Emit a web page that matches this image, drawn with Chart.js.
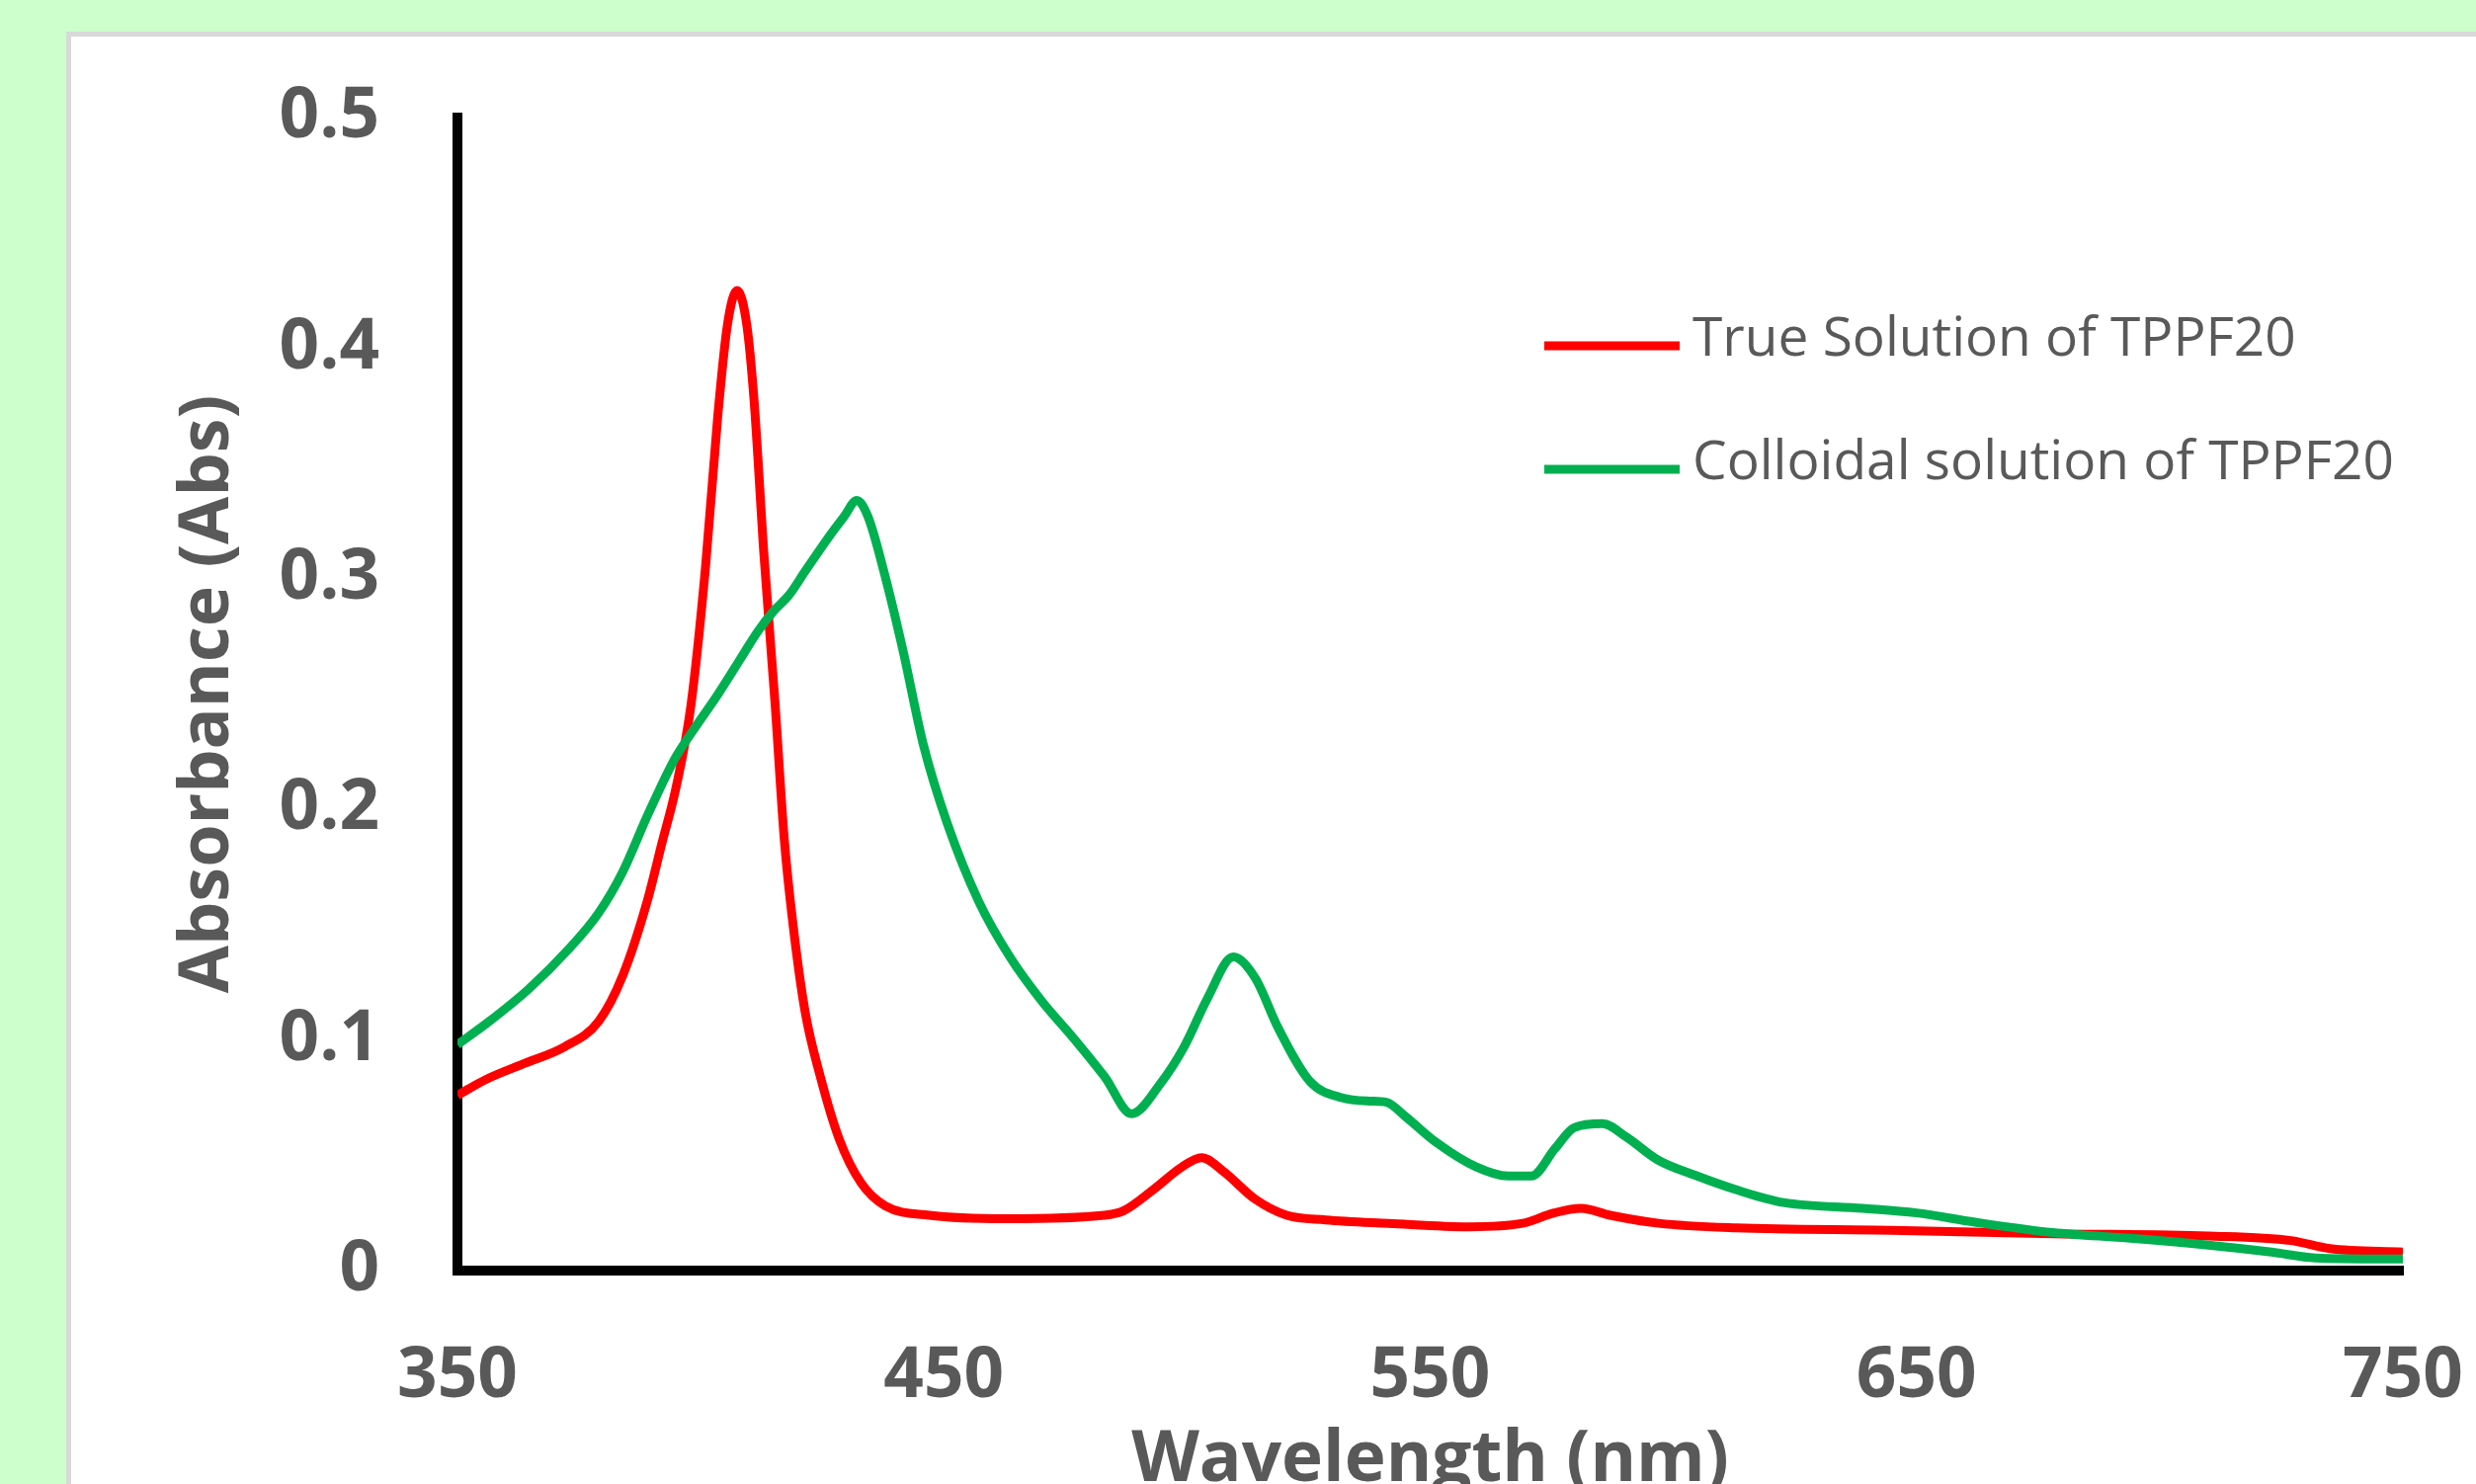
<!DOCTYPE html>
<html>
<head>
<meta charset="utf-8">
<script src="https://cdn.jsdelivr.net/npm/chart.js@4.4.1/dist/chart.umd.min.js"></script>
<style>
  html, body { margin: 0; padding: 0; }
  body { width: 2506px; height: 1502px; background: #ccffcc; position: relative; overflow: hidden; }
  #panel { position: absolute; left: 67px; top: 32px; width: 2600px; height: 1600px; background: #fff;
           border-left: 5px solid #d9d9d9; border-top: 5px solid #d9d9d9; }
  #chart { position: absolute; left: 0; top: 0; }
</style>
</head>
<body>
<div id="panel"></div>
<canvas id="chart" width="2506" height="1502"></canvas>
<script>
// values
const seriesLabels = ["True Solution of TPPF20", "Colloidal solution of TPPF20"];

const trueWavelength = [350, 356, 364, 372, 379, 384, 389, 392, 395, 398, 401, 403.5, 405.5, 407.5, 409.5,
  411, 413, 415.3, 417.2, 419, 421.5, 424.5, 428.5, 433, 438, 447, 463, 483, 487, 493, 499, 503, 507.5,
  514, 520.5, 528.5, 541.5, 558, 569, 575.5, 581, 587, 597, 613, 645, 678, 710, 727, 735, 750];
const trueAbsorbance = [0.076, 0.083, 0.09, 0.097, 0.108, 0.128, 0.16, 0.185, 0.21, 0.245, 0.305, 0.37, 0.41, 0.425, 0.41,
  0.377, 0.311, 0.246, 0.187, 0.15, 0.112, 0.085, 0.057, 0.038, 0.028, 0.024, 0.0225, 0.024, 0.026, 0.035, 0.045, 0.049, 0.043,
  0.031, 0.024, 0.022, 0.0205, 0.019, 0.0205, 0.025, 0.027, 0.024, 0.0205, 0.0185, 0.0175, 0.016, 0.015, 0.013, 0.0095, 0.008];

const colloidWavelength = [350, 356.5, 364.6, 372.7, 379, 384, 389, 394.7, 398.7, 403.6, 408.4, 411.7, 415, 418.2,
  421.4, 426.3, 429.5, 432.1, 434.4, 437.7, 441.6, 445.8, 450.7, 457.2, 463.6, 470.1, 476.6, 483.1, 488.6, 494.5,
  499.4, 504.2, 509.5, 514, 518.8, 525.3, 531.8, 537.5, 541, 544.8, 551.3, 559.4, 566, 570.8, 575.7, 579.6, 585.4,
  590.3, 596.8, 604.9, 613, 622.7, 639, 650, 662, 678, 694, 710, 723, 732, 750];
const colloidAbsorbance = [0.098, 0.108, 0.122, 0.139, 0.155, 0.173, 0.197, 0.222, 0.235, 0.25, 0.266, 0.277, 0.286, 0.293,
  0.303, 0.318, 0.327, 0.334, 0.327, 0.303, 0.269, 0.228, 0.194, 0.16, 0.136, 0.117, 0.101, 0.084, 0.068, 0.081,
  0.097, 0.118, 0.136, 0.127, 0.105, 0.082, 0.075, 0.0735, 0.073, 0.067, 0.0555, 0.045, 0.041, 0.041, 0.053, 0.062, 0.0637,
  0.058, 0.048, 0.041, 0.035, 0.0295, 0.027, 0.025, 0.021, 0.0165, 0.014, 0.011, 0.008, 0.0055, 0.005];

const xTicks = [350, 450, 550, 650, 750];
const yTicks = [0, 0.1, 0.2, 0.3, 0.4, 0.5];

const textColor = "#595959";
const fontFamily = "'Open Sans', sans-serif";

function toPoints(xs, ys) {
  return xs.map((x, i) => ({ x: x, y: ys[i] }));
}

// legend sits inside the plot, stacked, like the original
const insideLegend = {
  id: "insideLegend",
  afterDatasetsDraw(chart) {
    const ctx = chart.ctx;
    ctx.save();
    chart.data.datasets.forEach((ds, i) => {
      const y = 350 + i * 125;
      ctx.strokeStyle = ds.borderColor;
      ctx.lineWidth = 9;
      ctx.beginPath();
      ctx.moveTo(1563, y);
      ctx.lineTo(1700, y);
      ctx.stroke();
      ctx.fillStyle = textColor;
      ctx.font = "55px " + fontFamily;
      ctx.textBaseline = "middle";
      ctx.textAlign = "left";
      ctx.fillText(ds.label, 1713, y - 6);
    });
    ctx.restore();
  }
};

new Chart(document.getElementById("chart"), {
  type: "line",
  data: {
    datasets: [
      {
        label: seriesLabels[0],
        data: toPoints(trueWavelength, trueAbsorbance),
        borderColor: "#ff0000",
        backgroundColor: "#ff0000",
        borderWidth: 9,
        pointRadius: 0,
        cubicInterpolationMode: "monotone",
        order: 1
      },
      {
        label: seriesLabels[1],
        data: toPoints(colloidWavelength, colloidAbsorbance),
        borderColor: "#00b050",
        backgroundColor: "#00b050",
        borderWidth: 9,
        pointRadius: 0,
        cubicInterpolationMode: "monotone",
        order: 0
      }
    ]
  },
  options: {
    responsive: false,
    animation: false,
    devicePixelRatio: 1,
    layout: { padding: { left: 0, top: 119, right: 74, bottom: 0 } },
    plugins: {
      legend: { display: false },
      tooltip: { enabled: false }
    },
    scales: {
      x: {
        type: "linear",
        min: 350,
        max: 750,
        afterBuildTicks: (scale) => { scale.ticks = xTicks.map(v => ({ value: v })); },
        afterFit: (scale) => {
          scale.height = 216;
          scale.paddingLeft = 0;
          scale.paddingRight = 0;
        },
        grid: { display: false, drawTicks: false },
        border: { display: true, color: "#000", width: 10 },
        ticks: {
          color: textColor,
          padding: 72,
          maxRotation: 0,
          font: { family: fontFamily, size: 71, weight: "bold", lineHeight: 1 }
        },
        title: {
          display: true,
          text: "Wavelength (nm)",
          color: textColor,
          padding: { top: 0, bottom: 0 },
          font: { family: fontFamily, size: 71, weight: "bold", lineHeight: 0.65 }
        }
      },
      y: {
        min: 0,
        max: 0.5,
        afterBuildTicks: (scale) => { scale.ticks = yTicks.map(v => ({ value: v })); },
        afterFit: (scale) => {
          scale.width = 463;
          scale.paddingTop = 0;
          scale.paddingBottom = 0;
        },
        grid: { display: false, drawTicks: false },
        border: { display: true, color: "#000", width: 10 },
        ticks: {
          color: textColor,
          padding: 79,
          font: { family: fontFamily, size: 71, weight: "bold", lineHeight: 1 },
          callback: (v) => String(v)
        },
        title: {
          display: true,
          text: "Absorbance (Abs)",
          color: textColor,
          padding: { top: 180, bottom: 0 },
          font: { family: fontFamily, size: 70, weight: "bold", lineHeight: 0.88 }
        }
      }
    }
  },
  plugins: [insideLegend]
});
</script>
</body>
</html>
